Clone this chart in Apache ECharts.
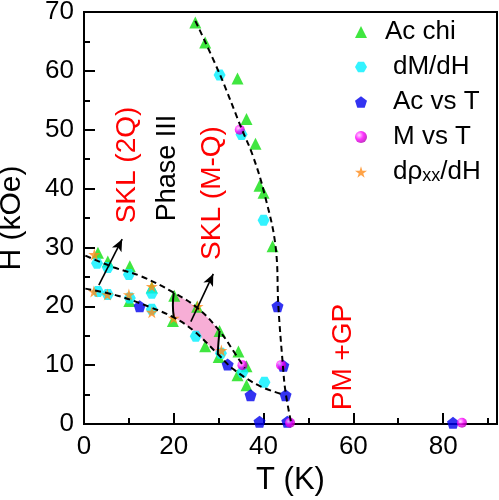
<!DOCTYPE html>
<html>
<head>
<meta charset="utf-8">
<script src="https://cdn.jsdelivr.net/npm/echarts@6/dist/echarts.min.js"></script>
<style>html,body{margin:0;padding:0;background:#fff}#c{width:499px;height:500px}</style>
</head>
<body>
<div id="c"></div>
<script>
// ---- data (T in K, H in kOe) ----
const xMajorTicks = [0, 20, 40, 60, 80];
const xMinorTicks = [10, 30, 50, 70, 90];
const seriesNames = ['Ac chi', 'dM/dH', 'Ac vs T', 'M vs T', 'dρxx/dH'];

const acChi = [[24.8,68.2],[27,64.8],[34.2,58.7],[36.2,51.8],[38.2,47.6],[39.1,40.5],[40,39.3],[42,30.2],
  [3.1,29.1],[5.3,27.6],[10.2,26.8],[15.1,23.2],[10.1,20.9],[20.1,21.8],[19.8,17.5],[25.2,19.9],
  [30.2,15.8],[27,13.2],[30,11.4],[34.4,12.3],[36.2,9.8],[34.2,8.3],[36.2,6.6]];
const dMdH = [[30.2,59.3],[35.1,49.2],[40,34.6],[2.9,27.3],[5.3,26.6],[10,25.4],[15.1,22.2],
  [3.1,22.5],[5.3,22],[10.2,21.4],[15.1,19.5],[24.9,14.9],[30.5,12],[35.3,8.8],[40.2,7.1]];
const acVsT = [[12.4,20],[32,10.1],[37.1,4.9],[43.1,20],[44.4,9.9],[44.9,4.9],[39.1,0.4],[45.3,0.4],[82.2,0.2]];
const mVsT = [[34.7,50],[35.3,10],[43.9,10],[45.9,0.2],[84.2,0.2]];
const dRho = [[2.3,28.8],[15.1,23.4],[2.2,22.5],[5.2,22],[10,22],[15.1,19],[25.3,20],[20,18],[30.6,12.5]];

// phase boundaries
const boundaryTc = [[24.8,68.5],[30.2,59.5],[35.1,50.2],[37.6,45.6],[40.2,39.1],[42.7,30],[43.3,20],[44.3,10],[44.9,5.4],[46.2,0]];
const boundaryUpper = [[0.3,28.6],[6.7,26.6],[12.7,25.1],[19.8,22.4],[25.3,19.7],[30.2,15.8],[33.8,11.8],[35.8,9.5]];
const boundaryLower = [[0.3,23],[7.5,21.8],[14.9,19.8],[20,18.1],[24.5,15.8],[29.8,11.9],[33.3,9.3],[39.3,6.4],[44.5,5]];
const pinkRegion = [[20,22.3],[22.5,21.1],[25.3,19.7],[27.8,17.9],[30.2,15.8],[29.8,11.9],[27.2,13.8],[24.5,15.8],[22.3,17.1],[20,18.1]];
const edgeLeft = [[20,22.3],[19.8,20.2],[20,18.1]];
const edgeRight = [[30.2,15.8],[29.95,13.8],[29.8,11.9]];
const arrows = [[[3.3,23.6],[8.5,31.4]], [[23.8,17.4],[28.8,25.5]]];

const FONT = 'Liberation Sans, Arial, sans-serif';
const starPath = 'path://M50,0 L61,35 L98,35 L68,57 L79,91 L50,70 L21,91 L32,57 L2,35 L39,35 Z';
const pentPath = 'path://M50,0 L97.6,34.5 L79.4,90.5 L20.6,90.5 L2.4,34.5 Z';
const hexPath = 'path://M25,0 L75,0 L100,43.3 L75,86.6 L25,86.6 L0,43.3 Z';

const chart = echarts.init(document.getElementById('c'));

const dashLine = (data) => ({
  type: 'line', data: data, smooth: 0.4, symbol: 'none', z: 4, silent: true,
  lineStyle: { color: '#000', width: 2, type: [6, 4] }
});
const solidLine = (data) => ({
  type: 'line', data: data, smooth: 0.5, symbol: 'none', z: 4, silent: true,
  lineStyle: { color: '#000', width: 2 }
});

const option = {
  animation: false,
  grid: { left: 84, right: 2, top: 12, bottom: 76, outerBoundsMode: 'none', containLabel: false,
          show: true, borderColor: '#000', borderWidth: 2 },
  legend: {
    orient: 'vertical', left: 350, top: 14, itemWidth: 12, itemHeight: 12, itemGap: 9,
    data: seriesNames,
    formatter: function (n) {
      if (n === 'Ac chi') return '{a|' + n + '}';
      if (n === 'dρxx/dH') return '{b|dρ}{s|xx}{c|/dH}';
      return '{b|' + n + '}';
    },
    textStyle: {
      fontFamily: FONT, fontSize: 26, color: '#000',
      rich: {
        a: { fontFamily: FONT, fontSize: 26, lineHeight: 26, padding: [0, 0, 0, 13] },
        b: { fontFamily: FONT, fontSize: 26, lineHeight: 26, padding: [0, 0, 0, 21] },
        c: { fontFamily: FONT, fontSize: 26, lineHeight: 26 },
        s: { fontFamily: FONT, fontSize: 18, lineHeight: 8, verticalAlign: 'bottom' }
      }
    }
  },
  xAxis: [{
    type: 'value', min: 0, max: 92, name: 'T (K)', nameLocation: 'middle', nameGap: 36,
    nameTextStyle: { fontFamily: FONT, fontSize: 31, color: '#000' },
    axisLine: { lineStyle: { color: '#000', width: 2 } },
    axisTick: { inside: true, length: 11, customValues: xMajorTicks, lineStyle: { color: '#000', width: 2 } },
    axisLabel: { fontFamily: FONT, fontSize: 26, color: '#000', margin: 10, customValues: xMajorTicks },
    splitLine: { show: false }
  }, {
    type: 'value', min: 0, max: 92, position: 'bottom',
    axisLine: { show: false },
    axisTick: { inside: true, length: 6, customValues: xMinorTicks, lineStyle: { color: '#000', width: 2 } },
    axisLabel: { show: false }, splitLine: { show: false }
  }],
  yAxis: {
    type: 'value', min: 0, max: 70, interval: 10, name: 'H (kOe)', nameLocation: 'middle', nameGap: 57,
    nameTextStyle: { fontFamily: FONT, fontSize: 30, color: '#000' },
    axisLine: { lineStyle: { color: '#000', width: 2 } },
    axisTick: { inside: true, length: 11, lineStyle: { color: '#000', width: 2 } },
    minorTick: { show: true, splitNumber: 2, length: 6, lineStyle: { color: '#000', width: 2 } },
    axisLabel: { fontFamily: FONT, fontSize: 26, color: '#000', margin: 10 },
    splitLine: { show: false }, minorSplitLine: { show: false }
  },
  graphic: [
    { type: 'text', x: 127, y: 165, rotation: Math.PI / 2, style: { text: 'SKL (2Q)', fill: '#ff0000', font: '28px ' + FONT, textAlign: 'center', textVerticalAlign: 'middle' } },
    { type: 'text', x: 168, y: 168, rotation: Math.PI / 2, style: { text: 'Phase III', fill: '#000', font: '27px ' + FONT, textAlign: 'center', textVerticalAlign: 'middle' } },
    { type: 'text', x: 212, y: 193, rotation: Math.PI / 2, style: { text: 'SKL (M-Q)', fill: '#ff0000', font: '28px ' + FONT, textAlign: 'center', textVerticalAlign: 'middle' } },
    { type: 'text', x: 343, y: 357, rotation: Math.PI / 2, style: { text: 'PM +GP', fill: '#ff0000', font: '28px ' + FONT, textAlign: 'center', textVerticalAlign: 'middle' } }
  ],
  series: [
    {
      type: 'custom', z: 1, silent: true, data: pinkRegion,
      renderItem: function (params, api) {
        if (params.dataIndex !== 0) return null;
        const pts = pinkRegion.map(p => api.coord(p));
        return { type: 'polygon', shape: { points: pts }, style: { fill: '#f7aed6', stroke: 'none' } };
      }
    },
    Object.assign(dashLine(boundaryTc), {
      markLine: {
        silent: true, symbol: ['none', 'arrow'], symbolSize: [8, 12], animation: false,
        label: { show: false }, lineStyle: { color: '#000', width: 1.6, type: 'solid' },
        data: arrows.map(a => [{ coord: a[0] }, { coord: a[1] }])
      }
    }),
    dashLine(boundaryUpper),
    dashLine(boundaryLower),
    solidLine(edgeLeft),
    solidLine(edgeRight),
    { name: 'Ac chi', type: 'scatter', data: acChi, symbol: 'triangle', symbolSize: 12, z: 3, itemStyle: { color: '#10e010' } },
    { name: 'dM/dH', type: 'scatter', data: dMdH, symbol: hexPath, symbolSize: [12, 11], z: 3, itemStyle: { color: '#00f0ff' } },
    { name: 'Ac vs T', type: 'scatter', data: acVsT, symbol: pentPath, symbolSize: 12, z: 3, itemStyle: { color: '#0000ee' } },
    { name: 'M vs T', type: 'scatter', data: mVsT, symbol: 'circle', symbolSize: 10, z: 3,
      itemStyle: { color: new echarts.graphic.RadialGradient(0.35, 0.35, 0.7, [
        { offset: 0, color: '#ffd0ff' }, { offset: 0.5, color: '#ff00ff' }, { offset: 1, color: '#b000b0' }]) } },
    { name: 'dρxx/dH', type: 'scatter', data: dRho, symbol: starPath, symbolSize: 12, z: 3, itemStyle: { color: '#ff8c1a' } }
  ]
};
chart.setOption(option);
</script>
</body>
</html>
